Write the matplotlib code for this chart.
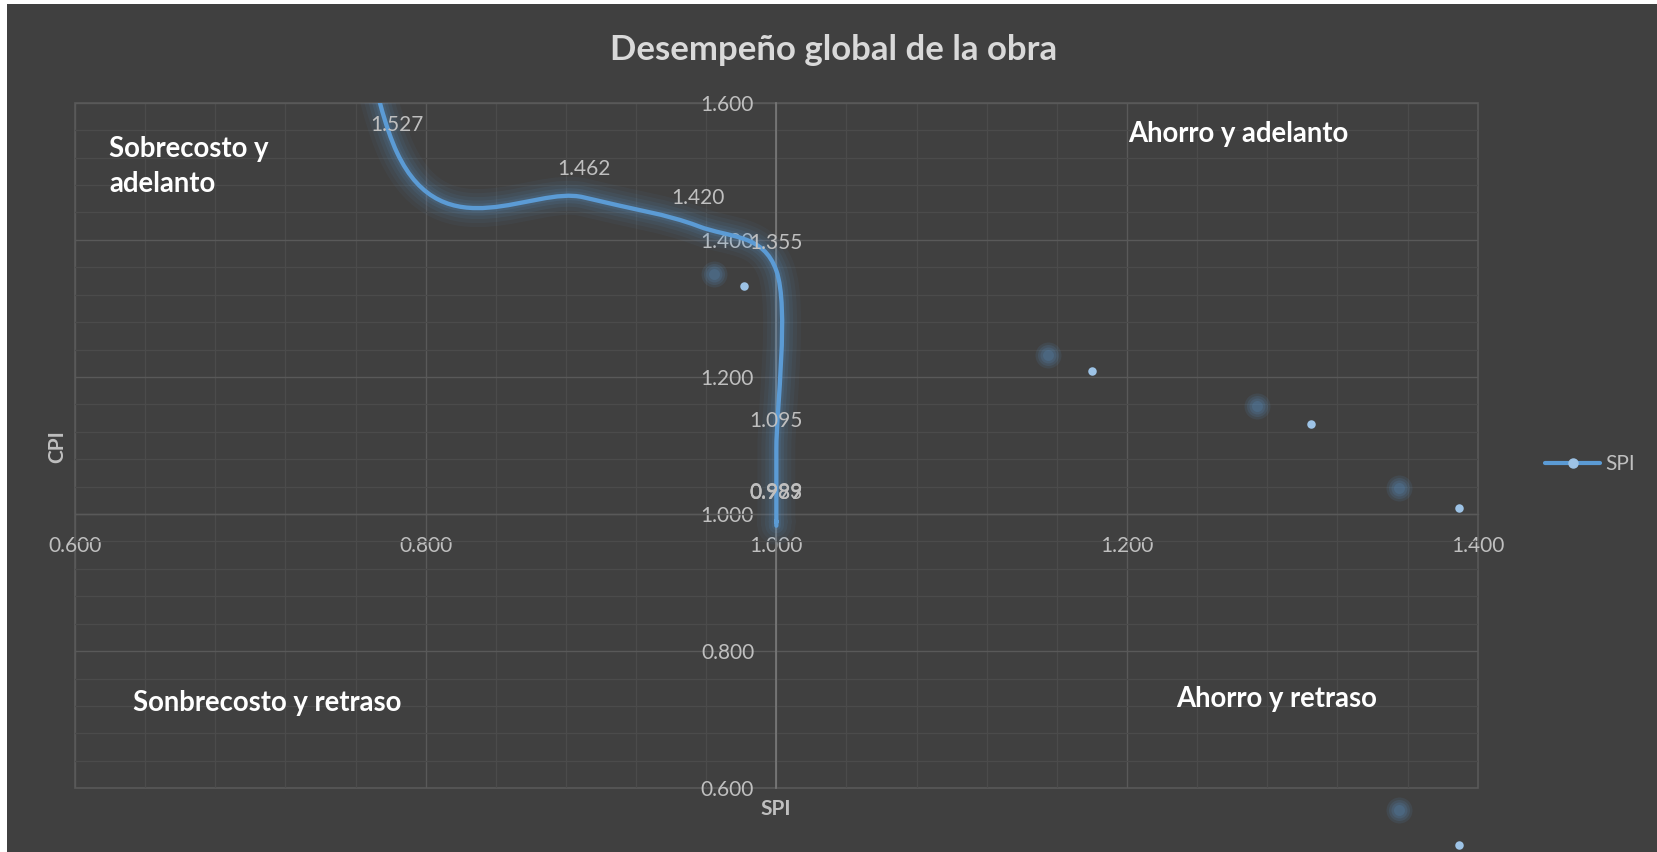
import numpy as np
import matplotlib
matplotlib.use("Agg")
import matplotlib.pyplot as plt
from matplotlib.path import Path
from matplotlib.patches import PathPatch, Rectangle
from matplotlib.lines import Line2D
from matplotlib.ticker import MultipleLocator, FuncFormatter

# ---------------- data ----------------
spi = [0.730, 0.7837, 0.890, 0.9554, 1.000, 1.000, 1.000, 1.000, 1.000]
cpi = [2.330, 1.527, 1.462, 1.420, 1.355, 1.095, 0.999, 0.989, 0.983]
cpi_labels = ["", "1.527", "1.462", "1.420", "1.355", "1.095", "0.999", "0.989", "0.983"]

# stray markers (light dots) and their blurred shadows seen on the chart
marker_spi = [0.9816, 1.1802, 1.3051, 1.3895, 1.3895]
marker_cpi = [1.3331, 1.2091, 1.1314, 1.0088, 0.5173]
shadow_spi = [0.9645, 1.1549, 1.2741, 1.3553, 1.3553]
shadow_cpi = [1.3502, 1.2320, 1.1576, 1.0384, 0.5683]

x_ticks = [0.6, 0.8, 1.0, 1.2, 1.4]
y_ticks = [0.6, 0.8, 1.0, 1.2, 1.4, 1.6]

title = "Desempeño global de la obra"
series_name = "SPI"
x_title = "SPI"
y_title = "CPI"

# ---------------- style ----------------
W, H, DPI = 1658, 852, 100
BG = "#404040"
GRID_MAJ = "#595959"
GRID_MIN = "#4b4b4b"
TXT = "#bfbfbf"
LINE = "#5B9BD5"
DOT = "#9DC3E6"

plt.rcParams["font.family"] = ["Lato", "DejaVu Sans"]

fig = plt.figure(figsize=(W / DPI, H / DPI), dpi=DPI)
fig.patch.set_facecolor("white")
fig.add_artist(Rectangle((7 / W, 0), 1 - 7 / W, 1 - 4 / H, transform=fig.transFigure,
                         facecolor=BG, edgecolor="none", zorder=-10))

L, R, T, B = 75, 1477.7, 102.7, 788.3
ax = fig.add_axes([L / W, (H - B) / H, (R - L) / W, (B - T) / H])
ax.set_facecolor(BG)
ax.set_xlim(0.6, 1.4)
ax.set_ylim(0.6, 1.6)

ax.xaxis.set_minor_locator(MultipleLocator(0.04))
ax.yaxis.set_minor_locator(MultipleLocator(0.04))
ax.set_xticks(x_ticks)
ax.set_yticks(y_ticks)
fmt = FuncFormatter(lambda v, p: f"{v:.3f}")
ax.xaxis.set_major_formatter(fmt)
ax.yaxis.set_major_formatter(fmt)
ax.grid(which="major", color=GRID_MAJ, lw=1.0)
ax.grid(which="minor", color=GRID_MIN, lw=0.9)
ax.set_axisbelow(True)

for s in ["top", "right"]:
    ax.spines[s].set_visible(False)
ax.spines["left"].set_position(("data", 1.0))
ax.spines["bottom"].set_position(("data", 1.0))
ax.spines["left"].set_color("#7a7a7a")
ax.spines["bottom"].set_color(GRID_MAJ)
ax.spines["left"].set_linewidth(1.2)
ax.spines["bottom"].set_linewidth(1.0)
ax.add_patch(Rectangle((0, 0), 1, 1, transform=ax.transAxes, fill=False,
                       ec=GRID_MAJ, lw=1.2, clip_on=False, zorder=0.5))

ax.tick_params(which="both", length=0)
ax.tick_params(axis="y", pad=16, labelsize=15, labelcolor=TXT)
ax.tick_params(axis="x", pad=16, labelsize=15, labelcolor=TXT)

# ---------------- smooth line (Bezier through the points) ----------------
P = np.column_stack([spi, cpi])
n = len(P)
verts = [P[0]]
codes = [Path.MOVETO]
for i in range(n - 1):
    p0 = P[i - 1] if i > 0 else P[i]
    p1 = P[i]
    p2 = P[i + 1]
    p3 = P[i + 2] if i + 2 < n else P[i + 1]
    c1 = p1 + (p2 - p0) / 6.0
    c2 = p2 - (p3 - p1) / 6.0
    verts += [c1, c2, p2]
    codes += [Path.CURVE4] * 3
path = Path(verts, codes)

for lw_px, a in [(38, 0.05), (30, 0.06), (22, 0.08), (15, 0.10), (9, 0.12)]:
    ax.add_patch(PathPatch(path, fill=False, ec=LINE, lw=lw_px * 0.72, alpha=a,
                           capstyle="round", joinstyle="round", zorder=3))
ax.add_patch(PathPatch(path, fill=False, ec=LINE, lw=3.1,
                       capstyle="round", joinstyle="round", zorder=4))

# data labels (above the points; the bottom cluster overlaps as in the original)
special = {"0.999": (0, 23), "0.989": (0, 29), "0.983": (0, 33)}
for x, y, lab in zip(spi, cpi, cpi_labels):
    if not lab:
        continue
    off = special.get(lab, (0, 28))
    ax.annotate(lab, (x, y), xytext=off, textcoords="offset pixels",
                ha="center", va="center", fontsize=15, color=TXT, zorder=6)

# stray markers with blurred shadows
for d, a in [(26, 0.10), (21, 0.12), (16, 0.14), (11, 0.16)]:
    ax.scatter(shadow_spi, shadow_cpi, s=(d * 0.72) ** 2, color=LINE, alpha=a,
               linewidths=0, clip_on=False, zorder=5)
ax.scatter(marker_spi, marker_cpi, s=(8.5 * 0.72) ** 2, color=DOT, linewidths=0,
           clip_on=False, zorder=7)

# ---------------- texts ----------------
fig.text(833.6 / W, 1 - 60 / H, title, ha="center", va="baseline",
         fontsize=25, fontweight="bold", color="#d9d9d9")

qkw = dict(fontsize=19.8, fontweight="bold", color="white", ha="left", va="baseline")
fig.text(109.3 / W, 1 - 157.3 / H, "Sobrecosto y", **qkw)
fig.text(109.3 / W, 1 - 191.7 / H, "adelanto", **qkw)
fig.text(1128.3 / W, 1 - 142 / H, "Ahorro y adelanto", **qkw)
fig.text(133.3 / W, 1 - 710.7 / H, "Sonbrecosto y retraso", **qkw)
fig.text(1176 / W, 1 - 706.7 / H, "Ahorro y retraso", **qkw)

fig.text(57.5 / W, 1 - 447 / H, y_title, rotation=90, ha="center", va="center",
         fontsize=15, fontweight="bold", color=TXT)
fig.text(776 / W, 1 - 809 / H, x_title, ha="center", va="center",
         fontsize=15, fontweight="bold", color=TXT)

# legend
handle = Line2D([], [], color=LINE, lw=3, marker="o", ms=6.5, mfc=DOT, mec=DOT,
                solid_capstyle="round")
leg = fig.legend([handle], [series_name], loc="center left",
                 bbox_to_anchor=(1545 / W, 1 - 464 / H), frameon=False,
                 fontsize=15, handlelength=55 / 20.8, handletextpad=0.25,
                 borderpad=0, borderaxespad=0)
for t in leg.get_texts():
    t.set_color(TXT)

fig.savefig("out.png", dpi=DPI, facecolor=fig.get_facecolor())
